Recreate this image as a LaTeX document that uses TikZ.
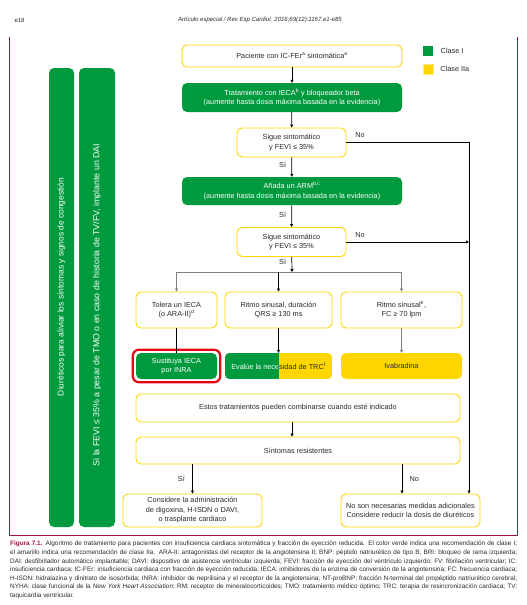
\documentclass[tikz,border=0pt]{standalone}
\usepackage{fontspec}
\setmainfont{Liberation Sans}
\usetikzlibrary{arrows.meta,positioning}
\definecolor{cgreen}{RGB}{0,154,62}
\definecolor{cyellow}{RGB}{255,214,0}
\definecolor{cframe}{RGB}{160,20,60}
\definecolor{cred}{RGB}{227,6,19}
\definecolor{ctext}{RGB}{40,40,50}
\tikzset{
  box/.style={rounded corners=5pt, align=center, inner sep=1pt, font=\fontsize{7.3}{9.5}\selectfont, text=ctext},
  ybox/.style={box, draw=cyellow, line width=0.9pt, fill=white},
  gbox/.style={box, fill=cgreen, text=white},
  yfbox/.style={box, fill=cyellow},
  bar/.style={fill=cgreen, rounded corners=5pt, inner sep=0, minimum height=459pt},
  barlbl/.style={rotate=90, text=white, font=\fontsize{8.4}{10}\selectfont},
  arr/.style={-{Triangle[length=3pt,width=3pt]}, line width=0.7pt},
  lbl/.style={font=\fontsize{7.3}{8}\selectfont, text=ctext},
}
\newcommand\trctxt{Evalúe la necesidad de TRC\textsuperscript{f}}
\begin{document}
\begin{tikzpicture}[x=1pt,y=-1pt]
\useasboundingbox (0,0) rectangle (527,605);
\node[lbl, anchor=west, font=\fontsize{6}{7}\selectfont] (pg) at (11,20) {e18};
\node[lbl, font=\fontsize{6}{7}\selectfont\itshape] (hd) at (260,20) {Artículo especial / Rev Esp Cardiol. 2016;69(12):1167.e1-e85};
\draw[cframe, line width=0.8pt] (9.5,37) -- (9.5,535) -- (517,535) -- (517,37);
\node[fill=cgreen, minimum size=10pt, inner sep=0] (lg1) at (428,51) {};
\node[lbl, right=4pt of lg1] (lt1) {Clase I};
\node[fill=cyellow, draw=cyellow!50, minimum size=9.5pt, inner sep=0] (lg2) at (428,69) {};
\node[lbl, right=4pt of lg2] (lt2) {Clase IIa};
\node[bar, minimum width=25pt] (bar1) at (61.5,297.5) {};
\node[barlbl] (diur) at (61.5,287) {Diuréticos para aliviar los síntomas y signos de congestión};
\node[bar, minimum width=36pt] (bar2) at (97,297.5) {};
\node[barlbl, font=\fontsize{8.8}{10}\selectfont] (dai) at (97,305) {Si la FEVI ≤ 35\% a pesar de TMO o en caso de historia de TV/FV, implante un DAI};
\node[ybox, minimum width=220pt, minimum height=22pt] (pac) at (292,56) {Paciente con IC-FEr\textsuperscript{a} sintomática\textsuperscript{a}};
\node[gbox, minimum width=220pt, minimum height=29pt] (trat) at (292,97.5) {Tratamiento con IECA\textsuperscript{b} y bloqueador beta\\(aumente hasta dosis máxima basada en la evidencia)};
\node[ybox, minimum width=109pt, minimum height=29pt] (sig1) at (291.5,142.5) {Sigue sintomático\\y FEVI ≤ 35\%};
\node[gbox, minimum width=220pt, minimum height=28pt] (anada) at (292,191) {Añada un ARM\textsuperscript{b,c}\\(aumente hasta dosis máxima basada en la evidencia)};
\node[ybox, minimum width=109pt, minimum height=29pt] (sig2) at (291.5,242) {Sigue sintomático\\y FEVI ≤ 35\%};
\coordinate (br) at (292,272);
\node[ybox, minimum width=81pt, minimum height=36pt] (tolera) at (176.5,310) {Tolera un IECA\\(o ARA-II)\textsuperscript{d}};
\node[ybox, minimum width=107pt, minimum height=36pt] (ritmo) at (278.5,310) {Ritmo sinusal, duración\\QRS ≥ 130 ms};
\node[ybox, minimum width=121pt, minimum height=36pt] (sinus) at (401.5,310) {Ritmo sinusal\textsuperscript{e},\\FC ≥ 70 lpm};
\node[gbox, minimum width=81pt, minimum height=26pt] (sust) at (176.5,366) {Sustituya IECA\\por INRA};
\draw[cred, line width=2.2pt, rounded corners=6pt] ([shift={(-3pt,-3pt)}]sust.south west) rectangle ([shift={(3pt,3pt)}]sust.north east);
\node[box, minimum width=107pt, minimum height=26pt] (trc) at (278.5,366) {};
\begin{scope}
\clip[rounded corners=5pt] (trc.north west) rectangle (trc.south east);
\fill[cgreen] (trc.north west) rectangle (trc.south);
\fill[cyellow] (trc.north) rectangle (trc.south east);
\end{scope}
\begin{scope}
\clip (trc.north west) rectangle (trc.south);
\node[lbl, text=white] (trcw) at (trc) {\trctxt};
\end{scope}
\begin{scope}
\clip (trc.north) rectangle (trc.south east);
\node[lbl] (trcd) at (trc) {\trctxt};
\end{scope}
\node[yfbox, minimum width=121pt, minimum height=26pt] (ivab) at (401.5,366) {Ivabradina};
\node[ybox, minimum width=324pt, minimum height=28pt] (estos) at (298,408) {Estos tratamientos pueden combinarse cuando esté indicado};
\node[ybox, minimum width=324pt, minimum height=27pt] (sint) at (298,450.5) {Síntomas resistentes};
\node[ybox, minimum width=139pt, minimum height=33pt] (consid) at (192.5,510.5) {Considere la administración\\de digoxina, H-ISDN o DAVI,\\o trasplante cardiaco};
\node[ybox, minimum width=139pt, minimum height=33pt] (noson) at (410.5,510.5) {No son necesarias medidas adicionales\\Considere reducir la dosis de diuréticos};
\coordinate (rt) at (469,142.5);
\draw[arr] (pac) -- (trat);
\draw[arr] (trat) -- (sig1);
\draw[arr] (sig1) -- node[lbl, left=2pt, pos=0.4] {Sí} (anada);
\draw[arr] (anada) -- node[lbl, left=2pt, pos=0.45] {Sí} (sig2);
\draw[arr] (sig2) -- node[lbl, left=2pt, pos=0.3] {Sí} (br);
\draw[gray, line width=0.7pt] (tolera.north |- br) -- (sinus.north |- br);
\foreach \n/\c in {tolera/gray,ritmo/black,sinus/gray}
  \draw[arr, \c] (\n.north |- br) -- (\n.north);
\draw[line width=0.7pt] (tolera) -- (sust);
\draw[arr] (ritmo) -- (trc);
\draw[arr, gray] (sinus) -- (ivab);
\draw[arr] (sig1.east) -- node[lbl, pos=0.11, above=1pt] {No} (rt) -- (rt |- noson.north);
\draw[arr] (sig2.east) -- node[lbl, pos=0.11, above=1pt] {No} (sig2.east -| rt);
\draw[arr] (estos.south -| br) -- (sint.north -| br);
\draw[arr] (consid.north |- sint.south) -- node[lbl, left=4pt] {Sí} (consid.north);
\draw[arr] ([xshift=-8.5pt]noson.north |- sint.south) -- node[lbl, right=4pt] {No} ([xshift=-8.5pt]noson.north);
\node[anchor=north west, text width=507pt, align=justify, inner sep=0, text=ctext, font=\fontsize{6.4}{8.6}\selectfont] (cap) at (10,541) {\textcolor{cframe}{\textbf{Figura 7.1.}} Algoritmo de tratamiento para pacientes con insuficiencia cardiaca sintomática y fracción de eyección reducida. El color verde indica una recomendación de clase I; el amarillo indica una recomendación de clase IIa. ARA-II: antagonistas del receptor de la angiotensina II; BNP: péptido natriurético de tipo B; BRI: bloqueo de rama izquierda; DAI: desfibrilador automático implantable; DAVI: dispositivo de asistencia ventricular izquierda; FEVI: fracción de eyección del ventrículo izquierdo; FV: fibrilación ventricular; IC: insuficiencia cardiaca; IC-FEr: insuficiencia cardiaca con fracción de eyección reducida; IECA: inhibidores de la enzima de conversión de la angiotensina; FC: frecuencia cardiaca; H-ISDN: hidralazina y dinitrato de isosorbida; INRA: inhibidor de neprilisina y el receptor de la angiotensina; NT-proBNP: fracción N-terminal del propéptido natriurético cerebral; NYHA: clase funcional de la \textit{New York Heart Association}; RM: receptor de mineralocorticoides; TMO: tratamiento médico óptimo; TRC: terapia de resincronización cardiaca; TV: taquicardia ventricular.};
\end{tikzpicture}
\end{document}
